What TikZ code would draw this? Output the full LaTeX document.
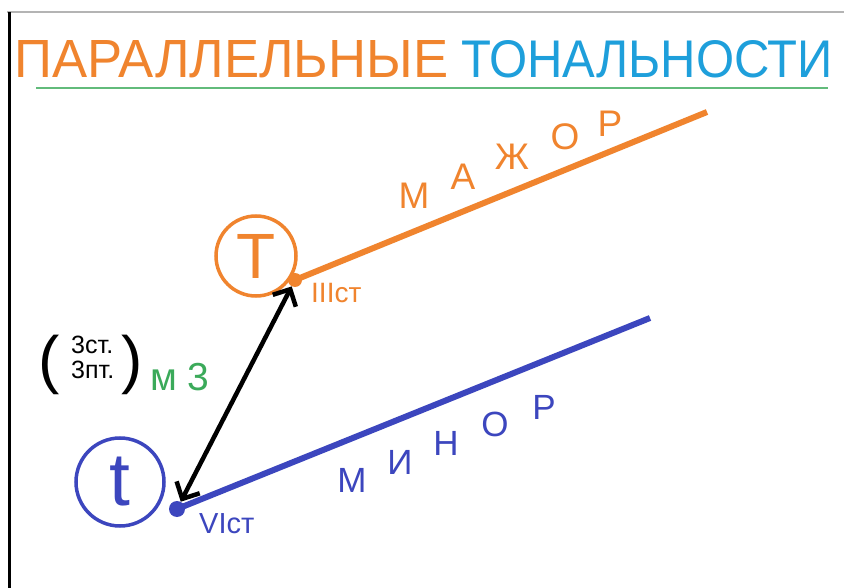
\documentclass[tikz,border=0pt]{standalone}
\usepackage{fontspec}
\setmainfont{Liberation Sans}
\usetikzlibrary{arrows.meta,positioning}
\definecolor{tonic}  {HTML}{F0842E}
\definecolor{sky}    {HTML}{1E9FDB}
\definecolor{minblue}{HTML}{3C46BE}
\definecolor{leaf}   {HTML}{3BAA5A}
\definecolor{rulegray}{HTML}{B4B4B4}

\begin{document}
\begin{tikzpicture}[x=1pt,y=1pt,
  every node/.style={inner sep=0pt},
  sz/.style={font=\fontsize{#1}{#1}\selectfont},
  ring/.style={circle, draw, line width=3.5pt, minimum size=#1},
  stepdot/.style={circle, fill, minimum size=14pt},
  keyline/.style={line width=6pt},
  interval/.style={black, line width=4.5pt,
    {Straight Barb[length=13pt,width=26pt]}-{Straight Barb[length=13pt,width=26pt]}}]
  \useasboundingbox[fill=white] (0,0) rectangle (844,-588);
  % frame and title
  \draw[rulegray, line width=1.2pt] (7,-12) -- (844,-12);
  \draw[black, line width=2.6pt] (9.5,-12) -- (9.5,-588);
  \node[sz=51pt, tonic, anchor=base west] (titleA) at (14,-78)
    {\resizebox{434pt}{37pt}{ПАРАЛЛЕЛЬНЫЕ}};
  \node[sz=51pt, sky, anchor=base west] (titleB) at (461,-78)
    {\resizebox{372pt}{37pt}{ТОНАЛЬНОСТИ}};
  \draw[leaf!80, line width=1.2pt] (36,-88) -- (828,-88);

  % tonics
  \node[ring=80pt, tonic, sz=64pt] (major) at (256,-256) {T};
  \node[ring=88pt, minblue, sz=75pt] (minor) at (120,-482) {t};
  \coordinate (majend) at (707,-112);
  \coordinate (minend) at (650,-318);
  \draw[keyline, tonic] (295,-280) -- (majend);
  \draw[keyline, minblue] (177,-509) -- (minend);
  \node[stepdot, tonic] (Tdot) at (295,-280) {};
  \node[stepdot, minblue, minimum size=16pt] (tdot) at (177,-509) {};
  \node[sz=28pt, tonic, anchor=base west] (Tlab) at (311,-303) {IIIст};
  \node[sz=29pt, minblue, anchor=base west] (tlab) at (199,-533) {VIст};

  % words along the lines
  \foreach \ch/\px/\py in {М/414/196, А/463/177, Ж/512/157, О/565/137, Р/610/124}
    \node[sz=37pt, tonic] at (\px,-\py) {\ch};
  \foreach \ch/\px/\py in {М/352/480, И/400/462, Н/446/443, О/495/424, Р/544/407}
    \node[sz=35pt, minblue] at (\px,-\py) {\ch};

  % the interval
  \draw[interval] (tdot) -- (Tdot);
  \node[sz=64pt] (lpar) at (49,-365) {(};
  \node[sz=64pt] (rpar) at (132,-365) {)};
  \node[sz=25pt, anchor=base west] (st) at (71,-353) {3ст.};
  \node[sz=25pt, anchor=base west] (pt) at (71,-378) {3пт.};
  \node[sz=39pt, leaf, anchor=base west] (m3) at (150,-390) {м 3};
\end{tikzpicture}
\end{document}
